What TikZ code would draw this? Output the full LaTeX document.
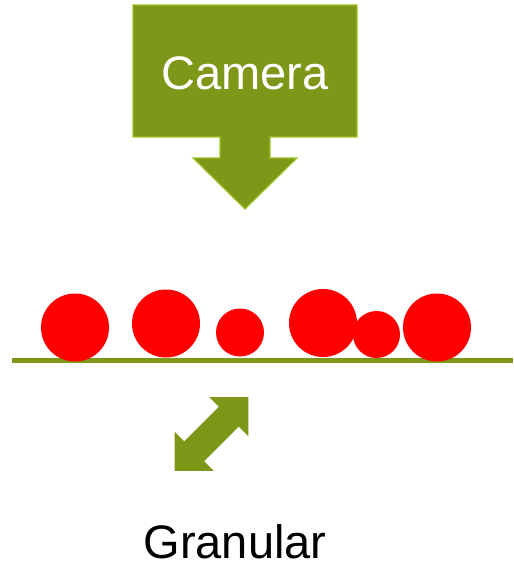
\documentclass[tikz,border=0pt]{standalone}
\usepackage{fontspec}
\setmainfont{Liberation Sans}
\definecolor{olive}{RGB}{127,151,25}
\definecolor{oliveedge}{RGB}{160,196,40}
\definecolor{ballred}{RGB}{255,0,0}
\begin{document}
\begin{tikzpicture}[x=1pt,y=-1pt,
  greenshape/.style={fill=olive,draw=oliveedge,line width=1.2pt,line join=miter},
  ball/.style={circle,fill=ballred,inner sep=0pt,draw=none},
  bigtext/.style={font=\fontsize{47}{50}\selectfont,inner sep=0pt}]
\useasboundingbox (0,0) rectangle (513,569);
% camera box with downward arrow
\draw[greenshape] (133,5) -- (357,5) -- (357,137) -- (270,137) -- (270,158) -- (297,158)
  -- (245,209) -- (193,158) -- (220,158) -- (220,137) -- (133,137) -- cycle;
\node[bigtext,text=white,anchor=base] (cam) at (245,90) {Camera};
% ground line
\coordinate (gl) at (12,360);
\coordinate (gr) at (513,360);
\draw[olive,line width=5pt] (gl) -- (gr);
% balls
\node[ball,minimum size=68pt] (b1) at (75,327.5) {};
\node[ball,minimum size=68pt] (b2) at (166,323.5) {};
\node[ball,minimum size=48pt] (b3) at (240,332.5) {};
\node[ball,minimum size=68pt] (b4) at (323,323) {};
\node[ball,minimum size=47pt] (b5) at (376.5,334.5) {};
\node[ball,minimum size=68pt] (b6) at (437,327.5) {};
% double arrow
\begin{scope}[shift={(211.5,434)},rotate=45]
\fill[olive] (52,0) -- (24.4,27.6) -- (24.4,14) -- (-24.4,14) -- (-24.4,27.6) -- (-52,0)
  -- (-24.4,-27.6) -- (-24.4,-14) -- (24.4,-14) -- (24.4,-27.6) -- cycle;
\end{scope}
\node[bigtext,anchor=base] (gran) at (235,558) {Granular};
\end{tikzpicture}
\end{document}
